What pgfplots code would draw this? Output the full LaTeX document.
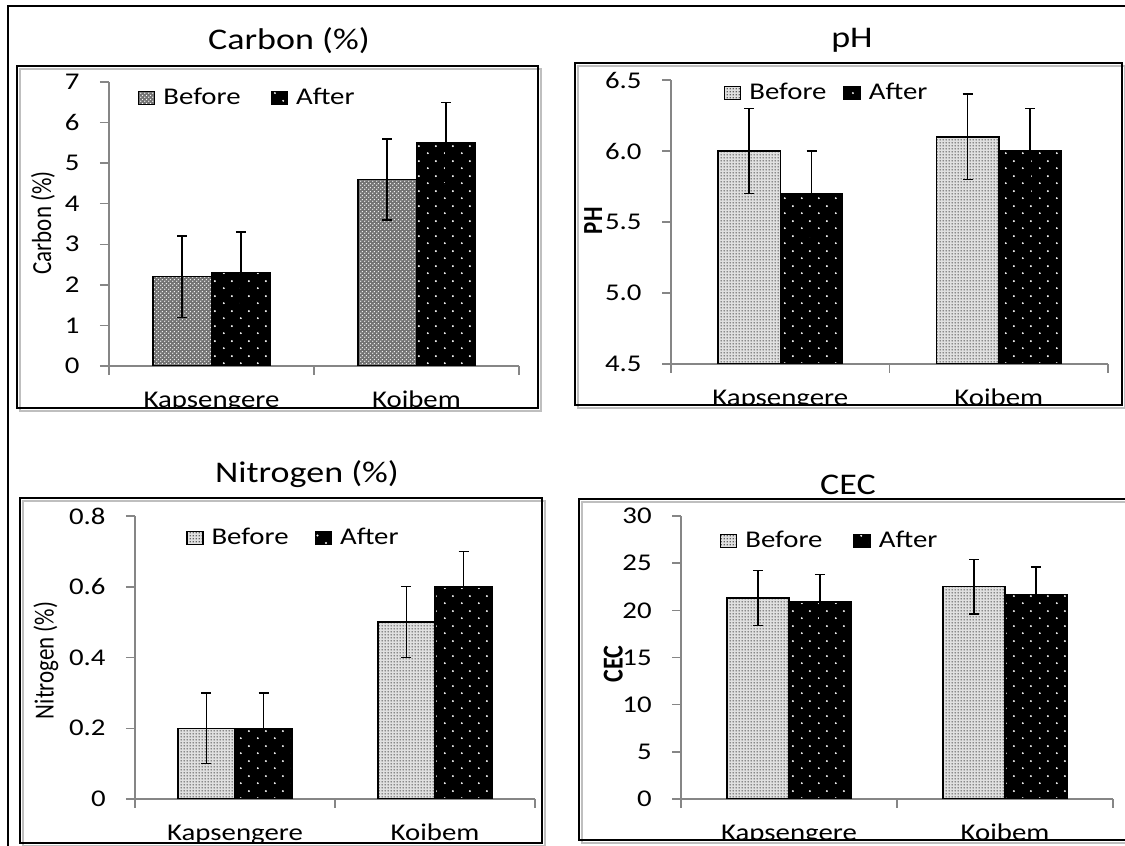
\documentclass[border=0pt]{standalone}
\usepackage{fontspec}
\setmainfont{Carlito}[FakeStretch=1.2]
\newfontfamily\plainfont{Carlito}
\usepackage{graphicx}
\usepackage{pgfplots}
\pgfplotsset{compat=1.18}
\usetikzlibrary{patterns}

\definecolor{axgray}{RGB}{134,134,134}

\pgfdeclarepatternformonly{sparsedots}{\pgfqpoint{0pt}{0pt}}{\pgfqpoint{8.5pt}{7.5pt}}{\pgfqpoint{8.5pt}{7.5pt}}{%
 \pgfpathcircle{\pgfqpoint{1.5pt}{1.5pt}}{0.55pt}%
 \pgfpathcircle{\pgfqpoint{5.75pt}{5.25pt}}{0.55pt}%
 \pgfusepath{fill}}
\pgfdeclarepatternformonly{finedots}{\pgfqpoint{0pt}{0pt}}{\pgfqpoint{1.5pt}{1.5pt}}{\pgfqpoint{1.5pt}{1.5pt}}{%
 \pgfpathcircle{\pgfqpoint{0.75pt}{0.75pt}}{0.45pt}\pgfusepath{fill}}
\pgfdeclarepatternformonly{diamonddots}{\pgfqpoint{0pt}{0pt}}{\pgfqpoint{2pt}{2pt}}{\pgfqpoint{2pt}{2pt}}{%
 \pgfpathcircle{\pgfqpoint{0.5pt}{0.5pt}}{0.42pt}%
 \pgfpathcircle{\pgfqpoint{1.5pt}{1.5pt}}{0.42pt}\pgfusepath{fill}}

\pgfplotsset{
  panel/.style={
    ybar=0pt, bar width=0.286,
    scale only axis, anchor=south west,
    xmin=-0.5, xmax=1.5,
    axis x line=bottom, axis y line=left,
    axis line style={draw=axgray, line width=0.75pt, -},
    every tick/.style={draw=axgray, line width=0.75pt},
    tick align=outside, major tick length=4.5pt, minor tick num=0,
    xtick={-0.5,0.5,1.5}, xticklabels={},
    extra x ticks={0,1}, extra x tick labels={Kapsengere,Koibem},
    extra x tick style={major tick length=0pt, xticklabel style={anchor=base, yshift=-21pt}},
    tick label style={font=\fontsize{12}{14}\selectfont},
    /pgf/number format/assume math mode=true,
    yticklabel style={inner sep=0pt, xshift=-10pt},
    legend style={draw=none, fill=none, inner sep=0pt, outer sep=0pt, anchor=west,
      font=\fontsize{12}{14}\selectfont,
      /tikz/every odd column/.append style={column sep=4pt},
      nodes={inner sep=0pt, anchor=west}},
    legend columns=2,
    legend image code/.code={\draw[##1] (0pt,-3.25pt) rectangle (8pt,3.25pt);},
    error bars/y dir=both, error bars/y explicit,
    error bars/error bar style={line width=0.7pt, draw=black},
    error bars/error mark options={rotate=90, line width=0.7pt, mark size=2.5pt, draw=black},
    ylabel style={anchor=center},
  },
  beforeC/.style={draw=black, line width=0.75pt, fill=black!55, postaction={pattern=diamonddots, pattern color=white}},
  beforeF/.style={draw=black, line width=0.75pt, fill=black!12, postaction={pattern=finedots, pattern color=black!80}},
  after/.style={draw=black, line width=0.75pt, fill=black, postaction={pattern=sparsedots, pattern color=white}},
}

\begin{document}
\begin{tikzpicture}
\useasboundingbox (0,0) rectangle (562.5pt,423pt);
\clip (0,0) rectangle (562.5pt,423pt);
\fill[white] (0,0) rectangle (562.5pt,423pt);

% Carbon
\begin{axis}[panel, at={(54.5pt,240pt)}, width=205pt, height=142pt,
  ymin=0, ymax=7, ytick={0,1,...,7},
  ylabel={\scalebox{1}[1.2]{Carbon (\%)}},
  ylabel style={at={(axis description cs:-0.161,0.504)}, font=\plainfont\fontsize{11.5}{13}\selectfont},
  legend style={at={(axis description cs:0.0707,0.9437)}, /tikz/every even column/.append style={column sep=15pt}}]
\addplot[beforeC] coordinates {(0,2.2) +- (0,1.0) (1,4.6) +- (0,1.0)};
\addplot[after] coordinates {(0,2.3) +- (0,1.0) (1,5.5) +- (0,1.0)};
\legend{Before,After}
\end{axis}

% pH
\begin{axis}[panel, at={(335.5pt,241pt)}, width=218.5pt, height=142pt,
  ymin=4.5, ymax=6.5, ytick={4.5,5.0,5.5,6.0,6.5},
  yticklabel style={/pgf/number format/.cd, fixed, fixed zerofill, precision=1},
  ylabel={\scalebox{1}[1.2]{PH}},
  ylabel style={at={(axis description cs:-0.178,0.504)}, font=\plainfont\bfseries\fontsize{11.5}{13}\selectfont},
  legend style={at={(axis description cs:0.121,0.954)}, /tikz/every even column/.append style={column sep=8.5pt}}]
\addplot[beforeF] coordinates {(0,6.0) +- (0,0.3) (1,6.1) +- (0,0.3)};
\addplot[after] coordinates {(0,5.7) +- (0,0.3) (1,6.0) +- (0,0.3)};
\legend{Before,After}
\end{axis}

% Nitrogen
\begin{axis}[panel, at={(67.5pt,23.5pt)}, width=200pt, height=141.5pt,
  ymin=0, ymax=0.8, ytick={0,0.2,0.4,0.6,0.8},
  ylabel={\scalebox{1}[1.2]{Nitrogen (\%)}},
  ylabel style={at={(axis description cs:-0.2225,0.49)}, font=\plainfont\fontsize{11.5}{13}\selectfont},
  legend style={at={(axis description cs:0.1275,0.922)}, /tikz/every even column/.append style={column sep=13pt}}]
\addplot[beforeF] coordinates {(0,0.2) +- (0,0.1) (1,0.5) +- (0,0.1)};
\addplot[after] coordinates {(0,0.2) +- (0,0.1) (1,0.6) +- (0,0.1)};
\legend{Before,After}
\end{axis}

% CEC
\begin{axis}[panel, at={(340.5pt,23.5pt)}, width=216pt, height=141.5pt,
  ymin=0, ymax=30, ytick={0,5,...,30},
  ylabel={\scalebox{1}[1.2]{CEC}},
  ylabel style={at={(axis description cs:-0.157,0.477)}, font=\plainfont\bfseries\fontsize{12}{14}\selectfont},
  legend style={at={(axis description cs:0.090,0.912)}, /tikz/every even column/.append style={column sep=15.5pt}}]
\addplot[beforeF] coordinates {(0,21.3) +- (0,2.9) (1,22.5) +- (0,2.9)};
\addplot[after] coordinates {(0,20.9) +- (0,2.9) (1,21.7) +- (0,2.9)};
\legend{Before,After}
\end{axis}

% covers to cut the category labels at the panel frames
\fill[white] (6pt,200pt) rectangle (280pt,219pt);
\fill[white] (280pt,195pt) rectangle (562.5pt,220.5pt);
\fill[white] (6pt,0pt) rectangle (280pt,1.5pt);
\fill[white] (280pt,0pt) rectangle (562.5pt,3pt);

% panel frames with light shadow
\foreach \a/\b/\c/\d in {8.5/219/269/390, 287.5/220.5/561/391.5, 10/1.5/271/174, 289.5/3/575/173.5}{
  \draw[black!25, line width=1.2pt] (\a pt+1.4pt,\b pt-1.4pt) rectangle (\c pt+1.4pt,\d pt-1.4pt);
  \draw[black, line width=0.9pt] (\a pt,\b pt) rectangle (\c pt,\d pt);
}

% titles
\node[anchor=base, font=\fontsize{15}{18}\selectfont] at (144.5pt,398pt) {Carbon (\%)};
\node[anchor=base, font=\fontsize{15}{18}\selectfont] at (426pt,399pt) {pH};
\node[anchor=base, font=\fontsize{15}{18}\selectfont] at (153.5pt,181.5pt) {Nitrogen (\%)};
\node[anchor=base, font=\fontsize{15}{18}\selectfont] at (424pt,175.5pt) {CEC};

% outer frame
\draw[black, line width=1.2pt] (4pt,-2pt) -- (4pt,420pt) -- (570pt,420pt);
\end{tikzpicture}
\end{document}
